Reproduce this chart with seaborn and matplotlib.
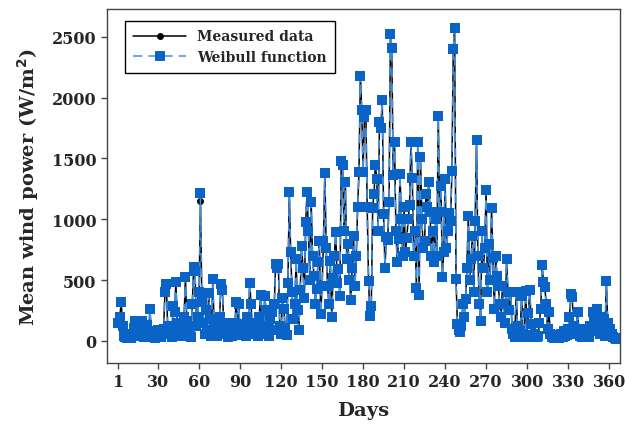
import numpy as np
import pandas as pd
import matplotlib
matplotlib.use('Agg')
import matplotlib.pyplot as plt
import seaborn as sns

# 일별 평균 풍력 (W/m^2), 1~365일
days = np.arange(1, 366)

measured = [
    150, 200, 320, 120, 40, 30, 20, 60, 40, 25,          # 1-10
    50, 110, 160, 70, 40, 160, 60, 160, 100, 30,         # 11-20
    60, 130, 40, 260, 80, 30, 60, 20, 45, 90,            # 21-30
    40, 30, 60, 100, 400, 460, 120, 60, 90, 30,          # 31-40
    290, 240, 480, 150, 60, 100, 40, 90, 200, 520,       # 41-50
    160, 50, 80, 30, 300, 600, 570, 120, 200, 400,       # 51-60
    1150, 320, 150, 60, 250, 90, 390, 180, 40, 500,      # 61-70
    130, 70, 40, 110, 200, 470, 420, 150, 60, 90,        # 71-80
    30, 120, 80, 40, 150, 60, 320, 100, 300, 50,         # 81-90
    70, 140, 90, 40, 200, 120, 480, 300, 80, 60,         # 91-100
    150, 90, 40, 200, 380, 120, 60, 370, 250, 100,       # 101-110
    40, 180, 240, 90, 300, 630, 600, 630, 120, 60,       # 111-120
    350, 260, 110, 50, 480, 1220, 730, 400, 180, 300,    # 121-130
    670, 250, 90, 420, 780, 600, 350, 980, 1220, 900,    # 131-140
    500, 1140, 700, 535, 300, 430, 650, 820, 220, 450,   # 141-150
    820, 1380, 760, 450, 300, 660, 200, 520, 700, 895,   # 151-160
    480, 590, 370, 1480, 1440, 900, 1310, 675, 800, 500, # 161-170
    340, 600, 865, 450, 700, 1100, 1390, 2180, 1900, 1390, # 171-180
    1840, 1900, 1100, 490, 205, 290, 1090, 1210, 1450, 1330, # 181-190
    900, 1800, 1750, 1980, 1045, 600, 855, 830, 1140, 2525, # 191-200
    2410, 1360, 1635, 900, 650, 840, 1370, 1000, 700, 1100, # 201-210
    730, 850, 1000, 1120, 1635, 1340, 700, 900, 435, 1635, # 211-220
    380, 1510, 1000, 760, 820, 1210, 1100, 1310, 1060, 700, # 221-230
    900, 650, 1000, 700, 1850, 1060, 1275, 525, 730, 1330, # 231-240
    760, 900, 1050, 985, 1400, 2400, 2565, 510, 140, 90,  # 241-250
    75, 120, 300, 200, 345, 600, 1030, 500, 675, 865,     # 251-260
    400, 985, 1650, 700, 305, 165, 900, 600, 760, 1240,   # 261-270
    400, 800, 500, 1095, 680, 260, 700, 530, 450, 300,    # 271-280
    200, 450, 300, 150, 675, 400, 250, 400, 100, 60,      # 281-290
    30, 400, 120, 40, 80, 370, 60, 30, 410, 50,           # 291-300
    230, 420, 140, 40, 30, 60, 30, 40, 150, 265,          # 301-310
    620, 485, 440, 300, 100, 240, 60, 30, 40, 20,         # 311-320
    30, 50, 20, 40, 60, 30, 80, 40, 50, 100,              # 321-330
    200, 370, 360, 120, 60, 100, 240, 80, 40, 30,         # 331-340
    60, 40, 100, 50, 30, 120, 80, 240, 180, 100,          # 341-350
    265, 150, 60, 200, 100, 180, 40, 495, 150, 60,        # 351-360
    100, 60, 30, 20, 15,                                  # 361-365
]

weibull = [
    150, 200, 320, 120, 40, 30, 20, 60, 40, 25,
    50, 110, 165, 70, 40, 160, 60, 165, 100, 30,
    60, 130, 40, 265, 80, 30, 60, 20, 45, 90,
    40, 30, 60, 100, 400, 470, 120, 60, 90, 30,
    290, 240, 485, 150, 60, 100, 40, 90, 200, 525,
    160, 50, 80, 30, 300, 610, 575, 120, 200, 400,
    1215, 320, 150, 60, 250, 90, 390, 180, 40, 510,
    130, 70, 40, 110, 200, 470, 420, 150, 60, 90,
    30, 120, 80, 40, 150, 60, 320, 100, 300, 50,
    70, 140, 90, 40, 200, 120, 480, 300, 80, 60,
    150, 90, 40, 200, 380, 120, 60, 370, 250, 100,
    40, 180, 240, 90, 300, 630, 600, 630, 120, 60,
    350, 260, 110, 50, 480, 1225, 730, 400, 180, 300,
    670, 250, 90, 420, 780, 600, 350, 980, 1225, 900,
    500, 1140, 700, 535, 300, 430, 650, 820, 220, 450,
    820, 1380, 760, 450, 300, 660, 200, 520, 700, 895,
    480, 590, 370, 1480, 1450, 900, 1310, 675, 800, 500,
    340, 600, 865, 450, 700, 1100, 1390, 2180, 1900, 1390,
    1840, 1900, 1100, 490, 205, 290, 1090, 1210, 1450, 1330,
    900, 1800, 1750, 1980, 1045, 600, 855, 830, 1140, 2525,
    2410, 1360, 1635, 900, 650, 840, 1370, 1000, 700, 1100,
    730, 850, 1000, 1120, 1635, 1340, 700, 900, 435, 1635,
    380, 1510, 1000, 760, 820, 1210, 1100, 1310, 1060, 700,
    900, 650, 1000, 700, 1850, 1060, 1275, 525, 730, 1330,
    760, 900, 1050, 985, 1400, 2400, 2575, 510, 140, 90,
    75, 120, 300, 200, 345, 600, 1030, 500, 675, 865,
    400, 985, 1650, 700, 305, 165, 900, 600, 760, 1240,
    400, 800, 500, 1095, 680, 260, 700, 530, 450, 300,
    200, 450, 300, 150, 675, 400, 250, 400, 100, 60,
    30, 400, 120, 40, 80, 370, 60, 30, 410, 50,
    230, 420, 140, 40, 30, 60, 30, 40, 150, 265,
    620, 485, 440, 300, 100, 240, 60, 30, 40, 20,
    30, 50, 20, 40, 60, 30, 80, 40, 50, 100,
    200, 385, 360, 120, 60, 100, 240, 80, 40, 30,
    60, 40, 100, 50, 30, 120, 80, 240, 180, 100,
    265, 150, 60, 200, 100, 180, 40, 495, 150, 60,
    100, 60, 30, 20, 15,
]

xticks = [1, 30, 60, 90, 120, 150, 180, 210, 240, 270, 300, 330, 360]
yticks = [0, 500, 1000, 1500, 2000, 2500]

df = pd.DataFrame({'day': days, 'measured': measured, 'weibull': weibull})

sns.set_style('ticks')
plt.rcParams['font.family'] = ['DejaVu Serif']
plt.rcParams['font.weight'] = 'bold'

fig, ax = plt.subplots(figsize=(6.25, 4.27), dpi=100)
fig.subplots_adjust(left=0.171, right=0.992, bottom=0.148, top=0.977)

sns.lineplot(data=df, x='day', y='measured', ax=ax, color='black', lw=1.1,
             marker='o', markersize=5, markeredgewidth=0, label='Measured data')
sns.lineplot(data=df, x='day', y='weibull', ax=ax, color='#3d8fe6', lw=1.1,
             linestyle=(0, (6, 4)), marker='s', markersize=6.5,
             markerfacecolor='#0a64c8', markeredgecolor='#0a64c8', markeredgewidth=0,
             label='Weibull function')

ax.set_xlim(-7.5, 368)
ax.set_ylim(-180, 2730)
ax.set_xticks(xticks)
ax.set_yticks(yticks)
ax.tick_params(labelsize=11.5, length=4, width=1, color='#444444')
for lab in ax.get_xticklabels() + ax.get_yticklabels():
    lab.set_fontweight('bold')
for sp in ax.spines.values():
    sp.set_color('#444444')
    sp.set_linewidth(1)

ax.set_xlabel('Days', fontsize=14, fontweight='bold', labelpad=8)
ax.set_ylabel('Mean wind power (W/m$^\\mathbf{2}$)', fontsize=14, fontweight='bold', labelpad=8)

leg = ax.legend(loc='upper left', bbox_to_anchor=(0.022, 0.985), frameon=True,
                fancybox=False, edgecolor='black', framealpha=1,
                prop={'family': 'DejaVu Serif', 'weight': 'bold', 'size': 10},
                handlelength=3.8, borderpad=0.6, labelspacing=0.5)
leg.get_frame().set_linewidth(1)

plt.savefig('out.png', dpi=100)
